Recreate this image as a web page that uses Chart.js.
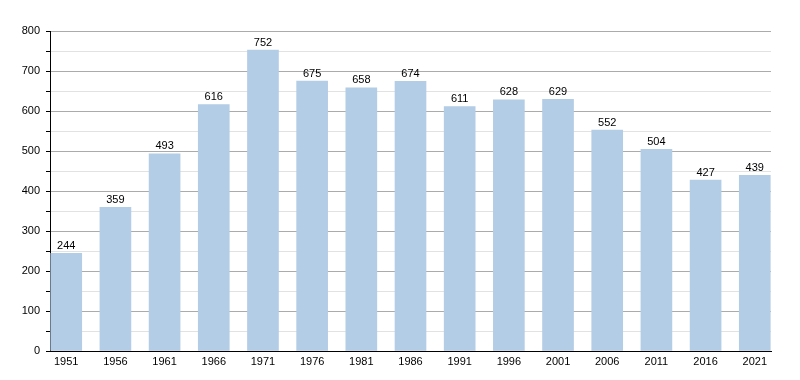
<!DOCTYPE html>
<html>
<head>
<meta charset="utf-8">
<script src="https://cdn.jsdelivr.net/npm/chart.js@4"></script>
<style>
  html, body { margin: 0; padding: 0; background: #fff; }
  #wrap { width: 800px; height: 380px; }
</style>
</head>
<body>
<div id="wrap"><canvas id="popChart" width="800" height="380"></canvas></div>
<script>
const years = ["1951", "1956", "1961", "1966", "1971", "1976", "1981", "1986", "1991", "1996", "2001", "2006", "2011", "2016", "2021"];
const population = [244, 359, 493, 616, 752, 675, 658, 674, 611, 628, 629, 552, 504, 427, 439];
const yMax = 800;
const yStep = 50;

const fontFamily = "'Liberation Sans', Arial, Helvetica, sans-serif";

const valueLabels = {
  id: "valueLabels",
  afterDatasetsDraw(chart) {
    const ctx = chart.ctx;
    const meta = chart.getDatasetMeta(0);
    ctx.save();
    ctx.font = "11px " + fontFamily;
    ctx.fillStyle = "#000";
    ctx.textAlign = "center";
    ctx.textBaseline = "bottom";
    meta.data.forEach((bar, i) => {
      ctx.fillText(String(population[i]), bar.x, bar.y - 2);
    });
    ctx.restore();
  }
};

new Chart(document.getElementById("popChart"), {
  type: "bar",
  data: {
    datasets: [{
      data: population.map((v, i) => ({ x: i, y: v })),
      backgroundColor: "#b3cde6",
      borderWidth: 0,
      barThickness: 31
    }]
  },
  options: {
    responsive: false,
    animation: false,
    layout: { padding: { top: 31, right: 29, left: 0, bottom: 0 } },
    plugins: { legend: { display: false }, tooltip: { enabled: false } },
    scales: {
      x: {
        type: "linear",
        offset: false,
        min: -0.33,
        max: years.length - 1 + 0.33,
        afterBuildTicks: s => { s.ticks = years.map((_, i) => ({ value: i })); },
        afterFit: s => { s.height = 29; },
        grid: { display: false, drawTicks: false },
        border: { color: "#000", width: 1 },
        ticks: {
          padding: 4,
          maxRotation: 0,
          autoSkip: false,
          color: "#000",
          font: { family: fontFamily, size: 11 },
          callback: v => years[v] ?? ""
        }
      },
      y: {
        min: 0,
        max: yMax,
        afterFit: s => { s.width = 50; },
        ticks: {
          stepSize: yStep,
          padding: 6,
          color: "#000",
          font: { family: fontFamily, size: 11 },
          callback: v => (v % 100 === 0 ? v : "")
        },
        grid: {
          color: c => (c.tick && c.tick.value % 100 === 0 ? "#ababab" : "#e2e2e2"),
          tickColor: "#000",
          tickLength: 4
        },
        border: { color: "#000", width: 1 }
      }
    }
  },
  plugins: [valueLabels]
});
</script>
</body>
</html>
